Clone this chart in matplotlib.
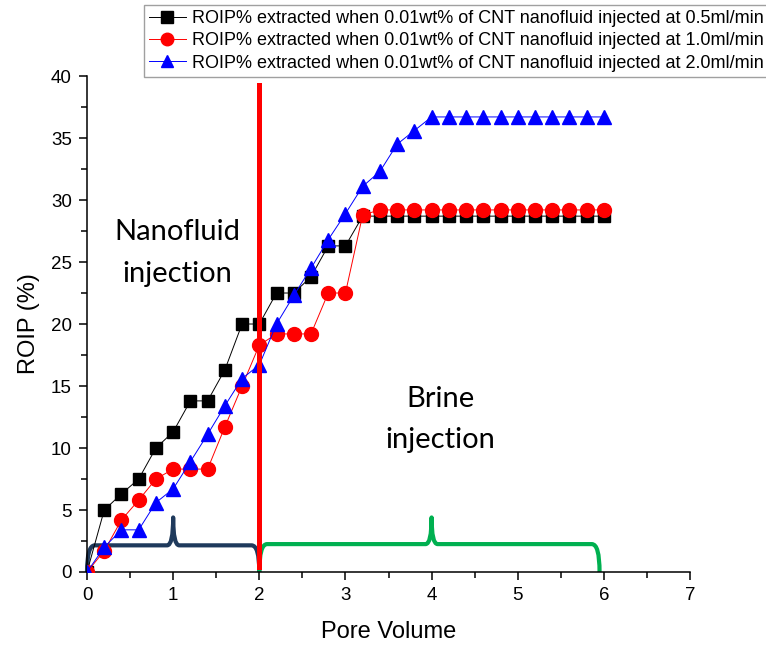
import matplotlib.pyplot as plt
import numpy as np
from matplotlib.path import Path
from matplotlib.patches import PathPatch

plt.rcParams['font.family'] = ['Liberation Sans', 'DejaVu Sans']

# pore volume injected
pv = [0.0, 0.2, 0.4, 0.6, 0.8, 1.0, 1.2, 1.4, 1.6, 1.8, 2.0,
      2.2, 2.4, 2.6, 2.8, 3.0, 3.2, 3.4, 3.6, 3.8, 4.0,
      4.2, 4.4, 4.6, 4.8, 5.0, 5.2, 5.4, 5.6, 5.8, 6.0]

# ROIP % at 0.5 ml/min
roip_05 = [0.0, 5.0, 6.3, 7.5, 10.0, 11.3, 13.8, 13.8, 16.3, 20.0, 20.0,
           22.5, 22.5, 23.8, 26.3, 26.3, 28.7, 28.7, 28.7, 28.7, 28.7,
           28.7, 28.7, 28.7, 28.7, 28.7, 28.7, 28.7, 28.7, 28.7, 28.7]

# ROIP % at 1.0 ml/min
roip_10 = [0.0, 1.7, 4.2, 5.8, 7.5, 8.3, 8.3, 8.3, 11.7, 15.0, 18.3,
           19.2, 19.2, 19.2, 22.5, 22.5, 28.8, 29.2, 29.2, 29.2, 29.2,
           29.2, 29.2, 29.2, 29.2, 29.2, 29.2, 29.2, 29.2, 29.2, 29.2]

# ROIP % at 2.0 ml/min
roip_20 = [0.0, 2.0, 3.4, 3.4, 5.6, 6.7, 8.9, 11.1, 13.4, 15.6, 16.7,
           20.0, 22.3, 24.5, 26.8, 28.9, 31.1, 32.3, 34.5, 35.6, 36.7,
           36.7, 36.7, 36.7, 36.7, 36.7, 36.7, 36.7, 36.7, 36.7, 36.7]

labels = ['ROIP% extracted when 0.01wt% of CNT nanofluid injected at 0.5ml/min',
          'ROIP% extracted when 0.01wt% of CNT nanofluid injected at 1.0ml/min',
          'ROIP% extracted when 0.01wt% of CNT nanofluid injected at 2.0ml/min']

switch_pv = 2.0


def brace(ax, x0, x1, xm, h, peak, color):
    # curly brace lying on the x axis
    r = 0.09
    s = 0.07
    verts = [(x0, 0), (x0, h), (x0 + r, h),
             (xm - s, h), (xm, h), (xm, peak),
             (xm, h), (xm + s, h),
             (x1 - r, h), (x1, h), (x1, 0)]
    codes = [Path.MOVETO, Path.CURVE3, Path.CURVE3,
             Path.LINETO, Path.CURVE3, Path.CURVE3,
             Path.CURVE3, Path.CURVE3,
             Path.LINETO, Path.CURVE3, Path.CURVE3]
    ax.add_patch(PathPatch(Path(verts, codes), fill=False, edgecolor=color,
                           lw=3.0, capstyle='butt', joinstyle='round',
                           clip_on=False, zorder=1))


fig = plt.figure(figsize=(7.66, 6.52), dpi=100)
ax = fig.add_axes([0.1136, 0.1227, 0.7872, 0.7607])

brace(ax, 0.0, 2.0, 1.0, 2.15, 4.4, '#1f3a5c')
brace(ax, 2.0, 5.95, 4.0, 2.25, 4.4, '#00b050')

ax.plot(pv, roip_05, color='black', lw=0.7, marker='s', ms=8.5,
        mfc='black', mec='black', label=labels[0], zorder=3)
ax.plot(pv, roip_10, color='red', lw=0.7, marker='o', ms=10,
        mfc='red', mec='red', label=labels[1], zorder=3)
ax.plot(pv, roip_20, color='blue', lw=0.7, marker='^', ms=10,
        mfc='blue', mec='blue', label=labels[2], zorder=3)

# switch from nanofluid to brine
ax.plot([switch_pv, switch_pv], [0.4, 39.3], color='red', lw=3.6, zorder=4)

ax.text(1.05, 25.7, 'Nanofluid\ninjection', fontsize=21, family='Lato',
        ha='center', va='center', linespacing=1.75)
ax.text(4.1, 12.3, 'Brine\ninjection', fontsize=21, family='Lato',
        ha='center', va='center', linespacing=1.75)

ax.set_xlim(0, 7)
ax.set_ylim(0, 40)
ax.set_xticks(np.arange(0, 8, 1))
ax.set_xticks(np.arange(0.5, 7, 1), minor=True)
ax.set_yticks(np.arange(0, 45, 5))
ax.set_yticks(np.arange(2.5, 40, 5), minor=True)
ax.spines['top'].set_visible(False)
ax.spines['right'].set_visible(False)
for sp in ('left', 'bottom'):
    ax.spines[sp].set_linewidth(1.1)
ax.tick_params(which='major', direction='out', length=6, width=1.1,
               labelsize=13.5, pad=5)
ax.tick_params(which='minor', direction='out', length=4, width=1.1)
ax.set_xlabel('Pore Volume', fontsize=17, labelpad=12)
ax.set_ylabel('ROIP (%)', fontsize=17, labelpad=8)

leg = fig.legend(loc='upper left', bbox_to_anchor=(144 / 766, 1 - 5 / 652),
                 fontsize=13, frameon=True, fancybox=False,
                 handlelength=2.0, handletextpad=0.35, borderpad=0.3,
                 labelspacing=0.28, borderaxespad=0)
leg.get_frame().set_edgecolor('#888888')
leg.get_frame().set_linewidth(1.0)
for h in leg.legend_handles:
    h.set_markersize(9)

fig.savefig('out.png', dpi=100)
